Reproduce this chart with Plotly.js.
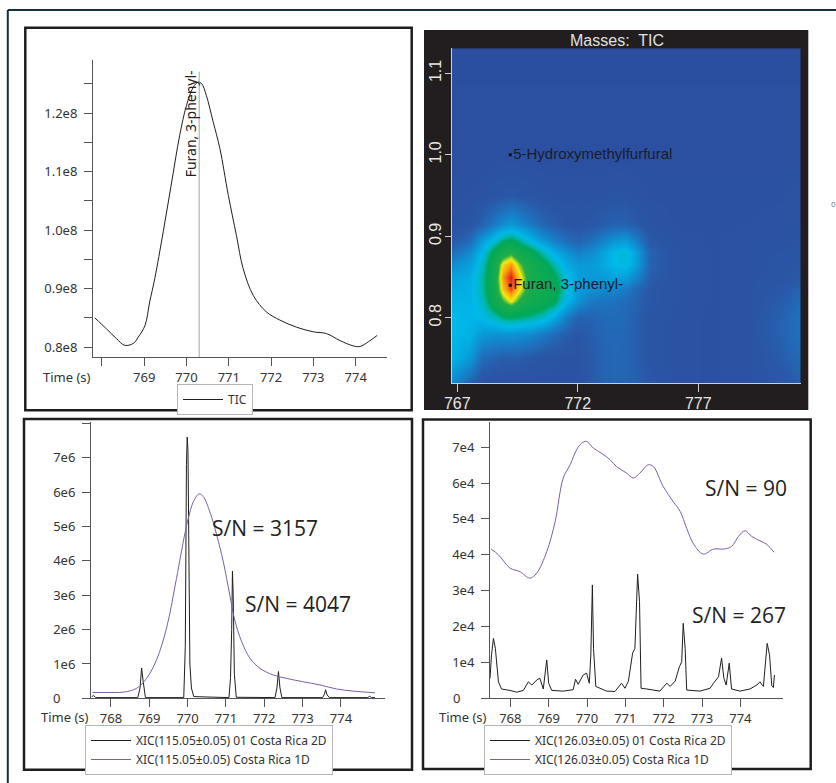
<!DOCTYPE html>
<html>
<head>
<meta charset="utf-8">
<script src="https://cdn.plot.ly/plotly-3.0.1.min.js"></script>
<style>html,body{margin:0;padding:0;background:#fff;}#chart{width:836px;height:783px;}</style>
</head>
<body>
<div id="chart"></div>
<script>
// ---------- DATA ----------
// Top-left: TIC
const ticX = [767.83,768.11,768.35,768.54,768.74,768.86,769.02,769.13,769.25,769.45,769.65,769.84,770.0,770.16,770.28,770.36,770.47,770.63,770.79,770.99,771.18,771.34,771.58,771.89,772.21,772.60,773.00,773.31,773.63,773.94,774.10,774.30,774.51];
const ticY = [0.850e8,0.831e8,0.814e8,0.803e8,0.806e8,0.817e8,0.837e8,0.877e8,0.917e8,0.997e8,1.082e8,1.162e8,1.213e8,1.244e8,1.253e8,1.250e8,1.230e8,1.185e8,1.139e8,1.059e8,0.991e8,0.934e8,0.888e8,0.860e8,0.846e8,0.834e8,0.826e8,0.823e8,0.811e8,0.802e8,0.801e8,0.809e8,0.820e8];
const furanRT = 770.3;
const ticYTicks = [0.8e8,0.9e8,1.0e8,1.1e8,1.2e8];
const ticYLabels = ['0.8e8','0.9e8','1.0e8','1.1e8','1.2e8'];
const ticYMinor = [0.85e8,0.95e8,1.05e8,1.15e8,1.25e8];
const timeTicks = [768,769,770,771,772,773,774];
const ticXLabels = ['','769','770','771','772','773','774'];
const timeLabels = ['768','769','770','771','772','773','774'];

// Top-right: 2D TIC contour (first dimension time vs second dimension time)
const heatX = [766.77,767.5,768.0,768.5,768.9,769.2,769.55,770.0,770.5,771.0,771.5,772.0,772.5,773.0,773.5,774.0,774.5,775.0,776.0,777.5,779.0,780.5,781.25];
const heatY = [0.7195,0.75,0.78,0.80,0.82,0.835,0.85,0.865,0.88,0.895,0.915,0.95,1.0,1.1307];
const heatZ = [
 [0.25,0.12,0.05,0.04,0.04,0.04,0.04,0.04,0.04,0.04,0.04,0.04,0.08,0.12,0.13,0.13,0.11,0.07,0.04,0.03,0.04,0.07,0.10],
 [0.38,0.30,0.15,0.12,0.10,0.10,0.10,0.08,0.06,0.05,0.04,0.04,0.08,0.12,0.13,0.13,0.10,0.06,0.04,0.03,0.04,0.10,0.15],
 [0.40,0.38,0.30,0.28,0.28,0.28,0.27,0.25,0.20,0.15,0.10,0.07,0.10,0.13,0.14,0.13,0.10,0.06,0.04,0.03,0.04,0.12,0.18],
 [0.40,0.38,0.40,0.46,0.52,0.54,0.52,0.50,0.46,0.36,0.22,0.12,0.12,0.14,0.15,0.14,0.10,0.06,0.04,0.03,0.04,0.12,0.18],
 [0.38,0.38,0.45,0.62,0.76,0.84,0.75,0.66,0.62,0.56,0.40,0.28,0.20,0.18,0.17,0.15,0.11,0.07,0.05,0.03,0.04,0.10,0.16],
 [0.36,0.37,0.48,0.66,0.88,0.97,0.86,0.70,0.65,0.60,0.45,0.32,0.27,0.25,0.24,0.20,0.13,0.07,0.05,0.03,0.04,0.08,0.12],
 [0.33,0.36,0.48,0.66,0.92,1.00,0.88,0.70,0.64,0.57,0.42,0.32,0.30,0.30,0.33,0.32,0.22,0.10,0.05,0.03,0.04,0.06,0.08],
 [0.25,0.32,0.45,0.64,0.86,0.92,0.80,0.67,0.60,0.48,0.36,0.30,0.30,0.34,0.40,0.42,0.30,0.12,0.05,0.03,0.04,0.05,0.06],
 [0.15,0.25,0.40,0.58,0.68,0.74,0.66,0.60,0.48,0.36,0.28,0.22,0.25,0.32,0.40,0.43,0.30,0.12,0.05,0.03,0.04,0.05,0.05],
 [0.08,0.15,0.30,0.42,0.52,0.56,0.50,0.40,0.30,0.22,0.16,0.12,0.16,0.22,0.28,0.30,0.20,0.08,0.04,0.03,0.04,0.04,0.05],
 [0.04,0.06,0.12,0.20,0.26,0.30,0.26,0.20,0.14,0.10,0.07,0.06,0.07,0.10,0.12,0.12,0.08,0.05,0.03,0.03,0.03,0.04,0.04],
 [0.03,0.03,0.04,0.06,0.07,0.08,0.07,0.06,0.05,0.04,0.04,0.04,0.04,0.04,0.05,0.05,0.04,0.03,0.03,0.03,0.03,0.03,0.04],
 [0.02,0.02,0.02,0.02,0.02,0.02,0.02,0.02,0.02,0.02,0.02,0.02,0.02,0.02,0.02,0.02,0.02,0.02,0.02,0.02,0.02,0.02,0.02],
 [0.01,0.01,0.01,0.01,0.01,0.01,0.01,0.01,0.01,0.01,0.01,0.01,0.01,0.01,0.01,0.01,0.01,0.01,0.01,0.01,0.01,0.01,0.01]
];
const compoundNames = ['5-Hydroxymethylfurfural','Furan, 3-phenyl-'];
const compound1D = [769.2, 769.2];
const compound2D = [1.0, 0.84];
const heatXTicks = [767,772,777];
const heatYTicks = [0.8,0.9,1.0,1.1];
const heatYLabels = ['0.8','0.9','1.0','1.1'];

// Bottom-left: XIC 115.05
const xic115_2D_x = [767.50,767.55,767.60,768.70,768.76,768.80,768.84,768.90,769.90,769.94,769.97,769.99,770.01,770.03,770.06,770.10,770.16,771.08,771.12,771.15,771.17,771.19,771.22,771.27,772.28,772.33,772.37,772.41,772.46,773.52,773.57,773.60,773.64,773.70,774.70,774.75,774.80,774.89];
const xic115_2D_y = [0.05e6,0.08e6,0.02e6,0.02e6,0.3e6,0.88e6,0.5e6,0.02e6,0.02e6,1.5e6,6.8e6,7.6e6,7.2e6,4.3e6,1.0e6,0.3e6,0.05e6,0.02e6,0.6e6,2.0e6,3.7e6,3.0e6,0.7e6,0.03e6,0.02e6,0.3e6,0.78e6,0.3e6,0.02e6,0.02e6,0.12e6,0.25e6,0.1e6,0.02e6,0.02e6,0.06e6,0.02e6,0.02e6];
const xic115_1D_x = [767.52,767.9,768.32,768.67,768.93,769.19,769.45,769.71,769.93,770.02,770.15,770.30,770.41,770.58,770.76,770.93,771.10,771.23,771.41,771.63,771.89,772.23,772.58,773.02,773.45,773.89,774.32,774.89];
const xic115_1D_y = [0.17e6,0.17e6,0.18e6,0.29e6,0.58e6,1.12e6,2.04e6,3.49e6,4.80e6,5.24e6,5.72e6,5.95e6,5.87e6,5.43e6,4.75e6,3.98e6,3.01e6,2.28e6,1.65e6,1.16e6,0.87e6,0.68e6,0.58e6,0.48e6,0.39e6,0.27e6,0.21e6,0.16e6];
const blYTicks = [0,1e6,2e6,3e6,4e6,5e6,6e6,7e6,8e6];
const blYLabels = ['','1e6','2e6','3e6','4e6','5e6','6e6','7e6',''];

// Bottom-right: XIC 126.03
const xic126_2D_x = [767.47,767.51,767.56,767.61,767.69,767.77,767.99,768.17,768.34,768.47,768.56,768.69,768.77,768.86,768.95,769.00,769.08,769.38,769.64,769.70,769.77,769.90,769.99,770.06,770.10,770.14,770.17,770.23,770.51,770.73,770.90,770.99,771.08,771.19,771.25,771.32,771.37,771.41,771.56,771.90,772.08,772.17,772.30,772.41,772.47,772.51,772.56,772.60,772.95,773.21,773.30,773.43,773.51,773.57,773.63,773.71,773.77,773.99,774.25,774.43,774.51,774.60,774.70,774.76,774.82,774.86,774.89];
const xic126_2D_y = [0.56e4,1.21e4,1.67e4,1.39e4,0.46e4,0.26e4,0.22e4,0.17e4,0.22e4,0.46e4,0.37e4,0.51e4,0.56e4,0.26e4,1.07e4,0.42e4,0.22e4,0.20e4,0.24e4,0.53e4,0.39e4,0.65e4,0.70e4,0.42e4,1.21e4,3.16e4,1.39e4,0.33e4,0.20e4,0.19e4,0.42e4,0.28e4,0.48e4,1.26e4,1.39e4,3.46e4,2.70e4,0.28e4,0.26e4,0.20e4,0.42e4,0.33e4,0.48e4,0.88e4,1.02e4,2.09e4,1.39e4,0.23e4,0.20e4,0.28e4,0.42e4,0.60e4,1.12e4,0.56e4,0.37e4,0.98e4,0.26e4,0.20e4,0.26e4,0.37e4,0.46e4,0.33e4,1.53e4,1.21e4,0.35e4,0.30e4,0.65e4];
const xic126_1D_x = [767.50,767.69,767.99,768.25,768.51,768.69,768.95,769.17,769.38,769.56,769.73,769.86,769.99,770.17,770.38,770.60,770.77,771.03,771.21,771.38,771.60,771.73,771.99,772.25,772.43,772.60,772.77,773.03,773.30,773.56,773.77,773.95,774.12,774.30,774.51,774.69,774.88];
const xic126_1D_y = [4.16e4,4.00e4,3.63e4,3.53e4,3.35e4,3.49e4,4.09e4,4.93e4,6.14e4,6.51e4,6.93e4,7.11e4,7.16e4,6.97e4,6.83e4,6.65e4,6.46e4,6.28e4,6.14e4,6.28e4,6.51e4,6.46e4,5.90e4,5.48e4,5.21e4,4.74e4,4.32e4,4.02e4,4.16e4,4.16e4,4.23e4,4.51e4,4.67e4,4.51e4,4.39e4,4.29e4,4.07e4];
const brYTicks = [0,1e4,2e4,3e4,4e4,5e4,6e4,7e4];
const brYLabels = ['','1e4','2e4','3e4','4e4','5e4','6e4','7e4'];

const snLabels = ['S/N = 3157','S/N = 4047','S/N = 90','S/N = 267'];

// ---------- LAYOUT HELPERS ----------
const W = 836, H = 783;
const px = v => v / W;
const py = v => 1 - v / H;
const BLACK = '#1f1f1f', PURPLE = '#7a5ea8', AX = '#555';
const tickFont = {family: 'Noto Sans', size: 13, color: '#333'};

function lineAxis(extra) {
  return Object.assign({
    showline: true, linecolor: AX, linewidth: 1, ticks: 'outside', ticklen: 8,
    tickcolor: AX, tickwidth: 1, showgrid: false, zeroline: false,
    tickfont: tickFont, fixedrange: true, tickmode: 'array'
  }, extra);
}

const traces = [
  {x: ticX, y: ticY, type: 'scatter', mode: 'lines', name: 'TIC',
   line: {color: BLACK, width: 1, shape: 'spline'}, xaxis: 'x', yaxis: 'y', legend: 'legend'},
  {x: heatX, y: heatY, z: heatZ, type: 'heatmap', xaxis: 'x2', yaxis: 'y2', zsmooth: 'best',
   zmin: 0, zmax: 1, showscale: false, showlegend: false, hoverinfo: 'skip',
   colorscale: [[0,'#2b4d9f'],[0.08,'#2a58a8'],[0.18,'#1d74c0'],[0.3,'#0a9ad8'],[0.4,'#00b9ea'],
                [0.48,'#00b6b0'],[0.54,'#00a85a'],[0.76,'#22ad48'],[0.84,'#f4ee10'],[0.92,'#fb9a10'],[1,'#e21a1c']]},
  {x: compound1D, y: compound2D, text: compoundNames, type: 'scatter', mode: 'markers+text',
   textposition: 'middle right', xaxis: 'x2', yaxis: 'y2', showlegend: false,
   marker: {symbol: 'square', size: 3, color: '#111'},
   textfont: {family: 'Liberation Sans', size: 15, color: '#1c1c2a'}},
  {x: xic115_2D_x, y: xic115_2D_y, type: 'scatter', mode: 'lines', name: 'XIC(115.05±0.05) 01 Costa Rica 2D',
   line: {color: BLACK, width: 1}, xaxis: 'x3', yaxis: 'y3', legend: 'legend2'},
  {x: xic115_1D_x, y: xic115_1D_y, type: 'scatter', mode: 'lines', name: 'XIC(115.05±0.05) Costa Rica 1D',
   line: {color: PURPLE, width: 1, shape: 'spline'}, xaxis: 'x3', yaxis: 'y3', legend: 'legend2'},
  {x: xic126_2D_x, y: xic126_2D_y, type: 'scatter', mode: 'lines', name: 'XIC(126.03±0.05) 01 Costa Rica 2D',
   line: {color: BLACK, width: 1}, xaxis: 'x4', yaxis: 'y4', legend: 'legend3'},
  {x: xic126_1D_x, y: xic126_1D_y, type: 'scatter', mode: 'lines', name: 'XIC(126.03±0.05) Costa Rica 1D',
   line: {color: PURPLE, width: 1, shape: 'spline'}, xaxis: 'x4', yaxis: 'y4', legend: 'legend3'}
];

const legendStyle = (x, y) => ({
  x: px(x), y: py(y), xanchor: 'left', yanchor: 'top', bgcolor: '#fff',
  bordercolor: '#b5b5b5', borderwidth: 1, itemwidth: 40, tracegroupgap: 0,
  font: {family: 'Noto Sans', size: 12, color: '#333'}, traceorder: 'normal'
});

const heatAxisFont = {family: 'Liberation Sans', size: 16, color: '#e6e6e6'};

const layout = {
  width: W, height: H,
  margin: {l: 0, r: 0, t: 0, b: 0, autoexpand: false},
  paper_bgcolor: '#fff', plot_bgcolor: 'rgba(0,0,0,0)',
  font: {family: 'Noto Sans', size: 13, color: '#333'},
  showlegend: true,
  hovermode: false,
  xaxis: lineAxis({domain: [px(93), px(387)], range: [767.79, 774.74], anchor: 'y',
    tickvals: timeTicks, ticktext: ticXLabels}),
  yaxis: lineAxis({domain: [py(357), py(60)], range: [0.783e8, 1.2906e8], anchor: 'x',
    tickvals: ticYTicks, ticktext: ticYLabels, ticklabelstandoff: 4,
    minor: {tickvals: ticYMinor, ticks: 'outside', ticklen: 8, tickcolor: AX, tickwidth: 1, showgrid: false}}),
  xaxis2: {domain: [px(451.7), px(800.7)], range: [766.77, 781.25], anchor: 'y2',
    showline: true, linecolor: '#cfcfcf', linewidth: 1, ticks: 'outside', ticklen: 8, tickcolor: '#cfcfcf',
    showgrid: false, zeroline: false, tickmode: 'array', tickvals: heatXTicks, tickfont: heatAxisFont,
    ticklabelstandoff: -3, fixedrange: true},
  yaxis2: {domain: [py(383.3), py(48.3)], range: [0.7195, 1.1307], anchor: 'x2',
    showline: true, linecolor: '#cfcfcf', linewidth: 1, ticks: 'outside', ticklen: 6, tickcolor: '#cfcfcf',
    showgrid: false, zeroline: false, tickmode: 'array', tickvals: heatYTicks, ticktext: heatYLabels,
    tickangle: -90, tickfont: heatAxisFont, ticklabelstandoff: -3, fixedrange: true},
  xaxis3: lineAxis({domain: [px(91), px(385)], range: [767.48, 775.15], anchor: 'y3',
    tickvals: timeTicks, ticktext: timeLabels}),
  yaxis3: lineAxis({domain: [py(698.3), py(421.7)], range: [0, 8.05e6], anchor: 'x3',
    tickvals: blYTicks, ticktext: blYLabels, ticklabelstandoff: 4}),
  xaxis4: lineAxis({domain: [px(490), px(783.3)], range: [767.47, 775.12], anchor: 'y4',
    tickvals: timeTicks, ticktext: timeLabels}),
  yaxis4: lineAxis({domain: [py(698.3), py(421.7)], range: [0, 7.71e4], anchor: 'x4',
    tickvals: brYTicks, ticktext: brYLabels, ticklabelstandoff: 4}),
  legend: legendStyle(177, 384),
  legend2: legendStyle(85, 725),
  legend3: legendStyle(484, 725),
  shapes: [
    // outer frame
    {type: 'line', xref: 'paper', yref: 'paper', x0: px(7.8), x1: 1, y0: py(10), y1: py(10), line: {color: '#143040', width: 2}},
    {type: 'line', xref: 'paper', yref: 'paper', x0: px(7.8), x1: px(7.8), y0: py(10), y1: 0, line: {color: '#143040', width: 2}},
    // dark background of the 2D plot
    {type: 'rect', xref: 'paper', yref: 'paper', layer: 'below', x0: px(424), x1: px(808.3), y0: py(410), y1: py(30),
     fillcolor: '#221e1f', line: {width: 0}},
    // panel frames
    {type: 'rect', xref: 'paper', yref: 'paper', x0: px(25.3), x1: px(411.7), y0: py(410.3), y1: py(27.8), line: {color: '#1e1e1e', width: 2.5}},
    {type: 'rect', xref: 'paper', yref: 'paper', x0: px(24), x1: px(412), y0: py(769.7), y1: py(419), line: {color: '#1e1e1e', width: 2.5}},
    {type: 'rect', xref: 'paper', yref: 'paper', x0: px(423), x1: px(810.7), y0: py(769), y1: py(419.5), line: {color: '#1e1e1e', width: 2.5}},
    // compound marker line in TIC
    {type: 'line', xref: 'x', yref: 'y', x0: furanRT, x1: furanRT, y0: 0.783e8, y1: 1.2706e8, line: {color: '#a5a5a5', width: 1}}
  ],
  annotations: [
    {xref: 'x', yref: 'y', x: furanRT, y: 1.181e8, text: compoundNames[1], textangle: -90, showarrow: false,
     xanchor: 'center', yanchor: 'middle', xshift: -9, font: {family: 'Noto Sans', size: 14, color: '#222'}},
    {xref: 'paper', yref: 'paper', x: px(67), y: py(377), xanchor: 'center', yanchor: 'middle', text: 'Time (s)', showarrow: false, font: tickFont},
    {xref: 'paper', yref: 'paper', x: px(65), y: py(717), xanchor: 'center', yanchor: 'middle', text: 'Time (s)', showarrow: false, font: tickFont},
    {xref: 'paper', yref: 'paper', x: px(463), y: py(717), xanchor: 'center', yanchor: 'middle', text: 'Time (s)', showarrow: false, font: tickFont},
    // zero labels (centred like the other y labels in the reference)
    {xref: 'paper', yref: 'y3', x: px(56.7), y: 0, xanchor: 'center', yanchor: 'middle', text: '0', showarrow: false, font: tickFont},
    {xref: 'paper', yref: 'y4', x: px(456.3), y: 0, xanchor: 'center', yanchor: 'middle', text: '0', showarrow: false, font: tickFont},
    {xref: 'paper', yref: 'paper', x: px(616.7), y: py(40), xanchor: 'center', yanchor: 'middle', text: 'Masses:  TIC', showarrow: false,
     font: {family: 'Liberation Sans', size: 16, color: '#e0e0e0'}},
    {xref: 'x3', yref: 'y3', x: 770.58, y: 4.955e6, xanchor: 'left', yanchor: 'middle', text: snLabels[0], showarrow: false,
     font: {family: 'Open Sans', size: 21, color: '#222'}},
    {xref: 'x3', yref: 'y3', x: 771.45, y: 2.744e6, xanchor: 'left', yanchor: 'middle', text: snLabels[1], showarrow: false,
     font: {family: 'Open Sans', size: 21, color: '#222'}},
    {xref: 'x4', yref: 'y4', x: 773.035, y: 5.865e4, xanchor: 'left', yanchor: 'middle', text: snLabels[2], showarrow: false,
     font: {family: 'Open Sans', size: 21, color: '#222'}},
    {xref: 'x4', yref: 'y4', x: 772.69, y: 2.323e4, xanchor: 'left', yanchor: 'middle', text: snLabels[3], showarrow: false,
     font: {family: 'Open Sans', size: 21, color: '#222'}},
    {xref: 'paper', yref: 'paper', x: px(833), y: py(203), xanchor: 'center', yanchor: 'middle', text: 'o', showarrow: false,
     font: {family: 'Noto Sans', size: 8, color: '#888'}}
  ]
};

Plotly.newPlot('chart', traces, layout, {staticPlot: true, displayModeBar: false});
</script>
</body>
</html>
